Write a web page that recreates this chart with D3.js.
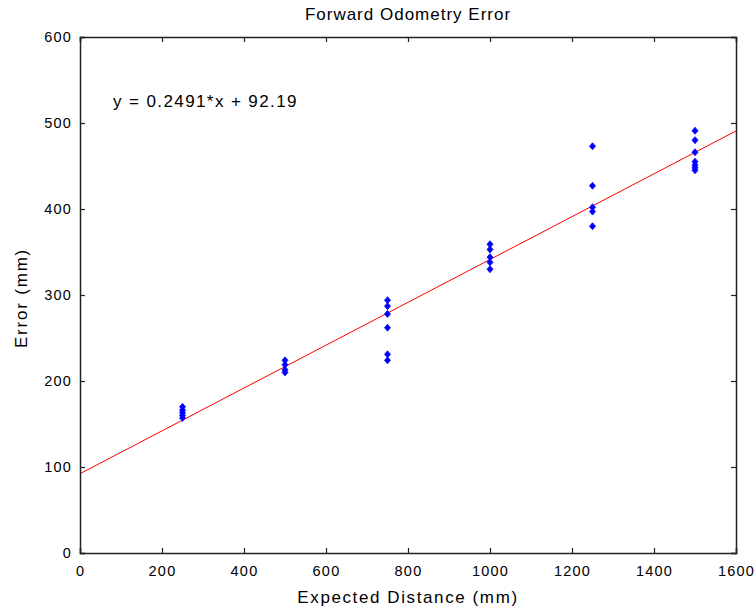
<!DOCTYPE html>
<html>
<head>
<meta charset="utf-8">
<script src="https://cdn.jsdelivr.net/npm/d3@7/dist/d3.min.js"></script>
<style>
  html, body { margin: 0; padding: 0; background: #fff; }
  svg { display: block; }
  text { font-family: "Liberation Sans", Arial, sans-serif; fill: #000; }
</style>
</head>
<body>
<svg id="chart" width="756" height="611"></svg>
<script>
// Measured odometry error for each commanded travel distance
const distances = [250, 500, 750, 1000, 1250, 1500];
const errorsAt250  = [170, 166, 163, 160, 157];
const errorsAt500  = [224, 219, 213, 210];
const errorsAt750  = [294, 287, 278, 262, 231, 224];
const errorsAt1000 = [359, 353, 344, 338, 330];
const errorsAt1250 = [473, 427, 402, 397, 380];
const errorsAt1500 = [491, 480, 466, 455, 451, 448, 445];
const errorSets = [errorsAt250, errorsAt500, errorsAt750, errorsAt1000, errorsAt1250, errorsAt1500];

// Least-squares fit
const fitSlope = 0.2491;
const fitIntercept = 92.19;

const xTicks = [0, 200, 400, 600, 800, 1000, 1200, 1400, 1600];
const yTicks = [0, 100, 200, 300, 400, 500, 600];

const titleText = "Forward Odometry Error";
const xLabel = "Expected Distance (mm)";
const yLabel = "Error (mm)";
const equationText = "y = 0.2491*x + 92.19";

const points = [];
distances.forEach((d, i) => errorSets[i].forEach(e => points.push({ x: d, y: e })));

const svg = d3.select("#chart");
const plotLeft = 80, plotRight = 736, plotTop = 37, plotBottom = 553;

const x = d3.scaleLinear().domain([0, 1600]).range([plotLeft, plotRight]);
const y = d3.scaleLinear().domain([0, 600]).range([plotBottom, plotTop]);

const tickLen = 5;

// Clip region for plot contents
svg.append("defs").append("clipPath").attr("id", "plotClip")
  .append("rect").attr("x", plotLeft).attr("y", plotTop)
  .attr("width", plotRight - plotLeft).attr("height", plotBottom - plotTop);

const plot = svg.append("g").attr("clip-path", "url(#plotClip)");

// Fitted line
plot.append("line")
  .attr("x1", x(0)).attr("y1", y(fitIntercept))
  .attr("x2", x(1600)).attr("y2", y(fitSlope * 1600 + fitIntercept))
  .attr("stroke", "#ff0000").attr("stroke-width", 1);

// Data markers (diamonds)
const diamond = "M0,-3.5L3,0L0,3.5L-3,0Z";
plot.selectAll("path.pt").data(points).enter().append("path")
  .attr("class", "pt")
  .attr("d", diamond)
  .attr("transform", d => `translate(${x(d.x)},${y(d.y)})`)
  .attr("fill", "#0000ff").attr("stroke", "#0000ff").attr("stroke-width", 0.8);

// Axes with inward ticks, mirrored on top and right
const axisColor = "#222";
const tickFont = 14.5;
const tickSpacing = 1.2;

const xBottom = svg.append("g").attr("transform", `translate(0,${plotBottom})`)
  .call(d3.axisBottom(x).tickValues(xTicks).tickSize(-tickLen).tickPadding(13).tickFormat(d3.format("d")));
const xTop = svg.append("g").attr("transform", `translate(0,${plotTop})`)
  .call(d3.axisTop(x).tickValues(xTicks).tickSize(-tickLen).tickFormat(""));
const yLeft = svg.append("g").attr("transform", `translate(${plotLeft},0)`)
  .call(d3.axisLeft(y).tickValues(yTicks).tickSize(-tickLen).tickPadding(8).tickFormat(d3.format("d")));
const yRight = svg.append("g").attr("transform", `translate(${plotRight},0)`)
  .call(d3.axisRight(y).tickValues(yTicks).tickSize(-tickLen).tickFormat(""));

[xBottom, xTop, yLeft, yRight].forEach(g => {
  g.select(".domain").attr("stroke", axisColor).attr("stroke-width", 1.5);
  g.selectAll(".tick line").attr("stroke", axisColor).attr("stroke-width", 1.2);
  g.selectAll(".tick text")
    .attr("font-size", tickFont).attr("font-family", null).attr("fill", "#000")
    .attr("letter-spacing", tickSpacing);
});

// Title and axis labels
svg.append("text").attr("x", (plotLeft + plotRight) / 2).attr("y", 20)
  .attr("text-anchor", "middle").attr("font-size", 17).attr("letter-spacing", 1)
  .text(titleText);
svg.append("text").attr("x", (plotLeft + plotRight) / 2).attr("y", 603)
  .attr("text-anchor", "middle").attr("font-size", 17).attr("letter-spacing", 1.6)
  .text(xLabel);
svg.append("text").attr("transform", `translate(27,${(plotTop + plotBottom) / 2 + 3}) rotate(-90)`)
  .attr("text-anchor", "middle").attr("font-size", 17).attr("letter-spacing", 1.8)
  .text(yLabel);

// Fit equation annotation
svg.append("text").attr("x", 113).attr("y", 107)
  .attr("font-size", 17).attr("letter-spacing", 1.4).text(equationText);
</script>
</body>
</html>
